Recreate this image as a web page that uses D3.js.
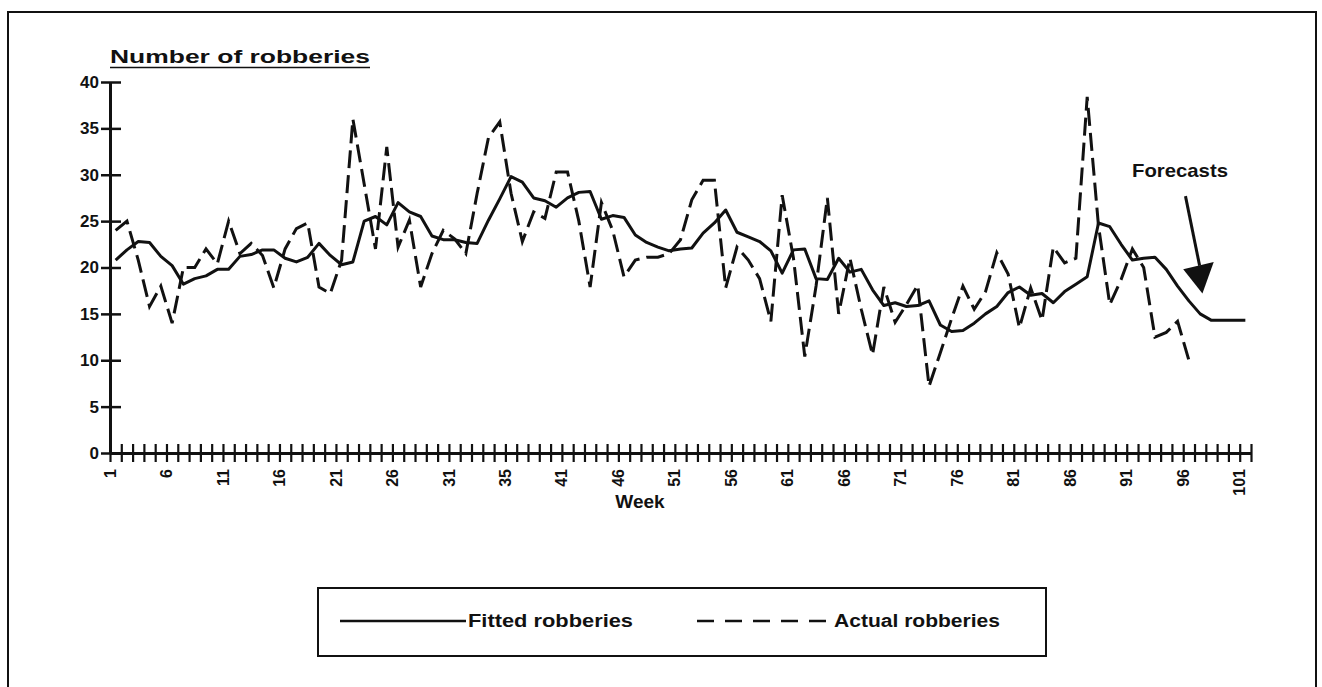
<!DOCTYPE html>
<html>
<head>
<meta charset="utf-8">
<script src="https://cdn.jsdelivr.net/npm/d3@7"></script>
<style>
  body { margin: 0; background: #fff; }
  svg text { font-family: "Liberation Sans", Arial, sans-serif; font-weight: bold; fill: #111; }
</style>
</head>
<body>
<div id="chart"></div>
<script>
// DATA //
var fitted = [
  20.8, 21.9, 22.8, 22.7, 21.2, 20.2, 18.2, 18.8, 19.1, 19.8,
  19.8, 21.2, 21.4, 21.9, 21.9, 21.0, 20.6, 21.1, 22.6, 21.3,
  20.3, 20.6, 25.0, 25.5, 24.6, 27.0, 26.0, 25.5, 23.4, 23.0,
  23.0, 22.7, 22.6, 25.1, 27.4, 29.8, 29.2, 27.5, 27.2, 26.5,
  27.5, 28.1, 28.2, 25.2, 25.6, 25.4, 23.5, 22.7, 22.2, 21.8,
  22.0, 22.1, 23.7, 24.8, 26.2, 23.8, 23.3, 22.8, 21.8, 19.4,
  21.9, 22.0, 18.8, 18.7, 21.0, 19.5, 19.8, 17.6, 15.9, 16.2,
  15.8, 15.9, 16.4, 13.8, 13.1, 13.2, 14.0, 15.0, 15.8, 17.3,
  17.9, 17.0, 17.2, 16.2, 17.4, 18.2, 19.0, 24.8, 24.4, 22.5,
  20.8, 21.0, 21.1, 19.8, 18.0, 16.4, 15.0, 14.3, 14.3, 14.3,
  14.3
]
var actual = [
  24.0, 25.0, 20.8, 15.8, 18.0, 14.0, 20.0, 20.0, 22.0, 20.4,
  25.0, 21.5, 22.6, 21.3, 17.8, 22.0, 24.2, 24.8, 17.9, 17.2,
  20.8, 36.0, 29.0, 22.0, 33.0, 22.2, 25.1, 17.9, 21.5, 24.0,
  23.1, 21.5, 28.0, 34.0, 35.7, 28.0, 22.8, 26.0, 25.3, 30.3,
  30.3, 25.0, 17.9, 27.0, 24.0, 19.0, 20.8, 21.1, 21.1, 21.5,
  23.0, 27.3, 29.4, 29.4, 17.8, 22.2, 20.8, 18.8, 14.2, 27.8,
  21.0, 10.4, 18.0, 27.5, 15.0, 21.0, 15.5, 10.6, 17.9, 14.1,
  16.0, 18.1, 7.2, 10.8, 14.5, 18.0, 15.5, 17.4, 21.6, 19.3,
  13.5, 17.8, 14.3, 22.2, 20.5, 21.0, 38.4, 24.5, 16.0, 18.7,
  22.0, 20.0, 12.5, 13.0, 14.2, 10.0
]
var yTicks = [0, 5, 10, 15, 20, 25, 30, 35, 40]
var xTickLabels = ["1", "6", "11", "16", "21", "26", "31", "35", "41", "46", "51",
  "56", "61", "66", "71", "76", "81", "86", "91", "96", "101"]
var seriesNames = ["Fitted robberies", "Actual robberies"]

var W = 1322, H = 687
var svg = d3.select("#chart").append("svg")
  .attr("width", W)
  .attr("height", H)

svg.append("rect").attr("width", W).attr("height", H).attr("fill", "#fff")

// outer frame (bottom edge runs off the page)
svg.append("rect")
  .attr("x", 8).attr("y", 12)
  .attr("width", 1308).attr("height", 720)
  .attr("fill", "none").attr("stroke", "#111").attr("stroke-width", 2)

var x = d3.scaleLinear().domain([0.5, 101.5]).range([110, 1251])
var y = d3.scaleLinear().domain([0, 40]).range([453, 82])

// title
svg.append("text")
  .attr("x", 110).attr("y", 63)
  .attr("textLength", 260).attr("lengthAdjust", "spacingAndGlyphs")
  .style("font-size", "18px")
  .text("Number of robberies")
svg.append("line")
  .attr("x1", 110).attr("x2", 370).attr("y1", 67.5).attr("y2", 67.5)
  .attr("stroke", "#111").attr("stroke-width", 1.6)

// Y AXIS //
var yAxis = svg.append("g")
  .attr("transform", "translate(" + x(0.5) + ",0)")
  .call(d3.axisLeft(y).tickValues(yTicks).tickSizeInner(9).tickSizeOuter(0).tickPadding(2))
yAxis.select(".domain").attr("stroke", "#111").attr("stroke-width", 3)
yAxis.selectAll(".tick line").attr("x1", 11).attr("stroke", "#111").attr("stroke-width", 2.5)
yAxis.selectAll(".tick text").style("font-size", "17px").attr("fill", "#111")
yAxis.attr("font-family", null).attr("font-size", null)

// X AXIS //
var xAxis = svg.append("g")
  .attr("transform", "translate(0," + y(0) + ")")
  .call(d3.axisBottom(x).tickValues(d3.range(0.5, 102, 1)).tickSizeInner(9).tickSizeOuter(0).tickFormat(""))
xAxis.select(".domain").attr("stroke", "#111").attr("stroke-width", 3)
xAxis.selectAll(".tick line").attr("y1", -9).attr("stroke", "#111").attr("stroke-width", 2.2)

svg.selectAll(".xlab")
  .data(xTickLabels)
  .enter().append("text")
    .attr("class", "xlab")
    .attr("transform", function (d, i) { return "translate(" + x(1 + i * 5 - 0.5) + ",469) rotate(-90)" })
    .attr("text-anchor", "end")
    .attr("dy", "0.35em")
    .style("font-size", "16px")
    .text(d => d)

svg.append("text")
  .attr("x", 640).attr("y", 508)
  .attr("text-anchor", "middle")
  .style("font-size", "19px")
  .text("Week")

// LINES //
var line = d3.line()
  .x((d, i) => x(i + 1))
  .y(d => y(d))

svg.append("path")
  .datum(fitted)
  .attr("d", line)
  .attr("fill", "none")
  .attr("stroke", "#111")
  .attr("stroke-width", 3)
  .attr("stroke-linejoin", "round")

svg.append("path")
  .datum(actual)
  .attr("d", line)
  .attr("fill", "none")
  .attr("stroke", "#111")
  .attr("stroke-width", 3)
  .attr("stroke-dasharray", "18,7")

// forecasts annotation
svg.append("text")
  .attr("x", 1132).attr("y", 177)
  .attr("textLength", 96).attr("lengthAdjust", "spacingAndGlyphs")
  .style("font-size", "19px")
  .text("Forecasts")
svg.append("line")
  .attr("x1", x(95.7)).attr("y1", y(27.7))
  .attr("x2", x(96.95)).attr("y2", y(20.2))
  .attr("stroke", "#111").attr("stroke-width", 3)
svg.append("path")
  .attr("d", "M" + x(95.5) + "," + y(19.8) + "L" + x(98.2) + "," + y(20.6) + "L" + x(97.2) + "," + y(17.2) + "Z")
  .attr("fill", "#111")

// LEGEND //
var legend = svg.append("g")
legend.append("rect")
  .attr("x", 318).attr("y", 588)
  .attr("width", 728).attr("height", 68)
  .attr("fill", "none").attr("stroke", "#111").attr("stroke-width", 2)

legend.append("line")
  .attr("x1", 340).attr("x2", 466).attr("y1", 621).attr("y2", 621)
  .attr("stroke", "#111").attr("stroke-width", 2.5)
legend.append("line")
  .attr("x1", 697).attr("x2", 831).attr("y1", 621).attr("y2", 621)
  .attr("stroke", "#111").attr("stroke-width", 2.5)
  .attr("stroke-dasharray", "17,11")

legend.selectAll(".legend-text")
  .data(seriesNames)
  .enter().append("text")
    .attr("class", "legend-text")
    .attr("x", (d, i) => i == 0 ? 468 : 834)
    .attr("y", 627)
    .attr("textLength", (d, i) => i == 0 ? 165 : 166)
    .attr("lengthAdjust", "spacingAndGlyphs")
    .style("font-size", "18px")
    .text(d => d)
</script>
</body>
</html>
